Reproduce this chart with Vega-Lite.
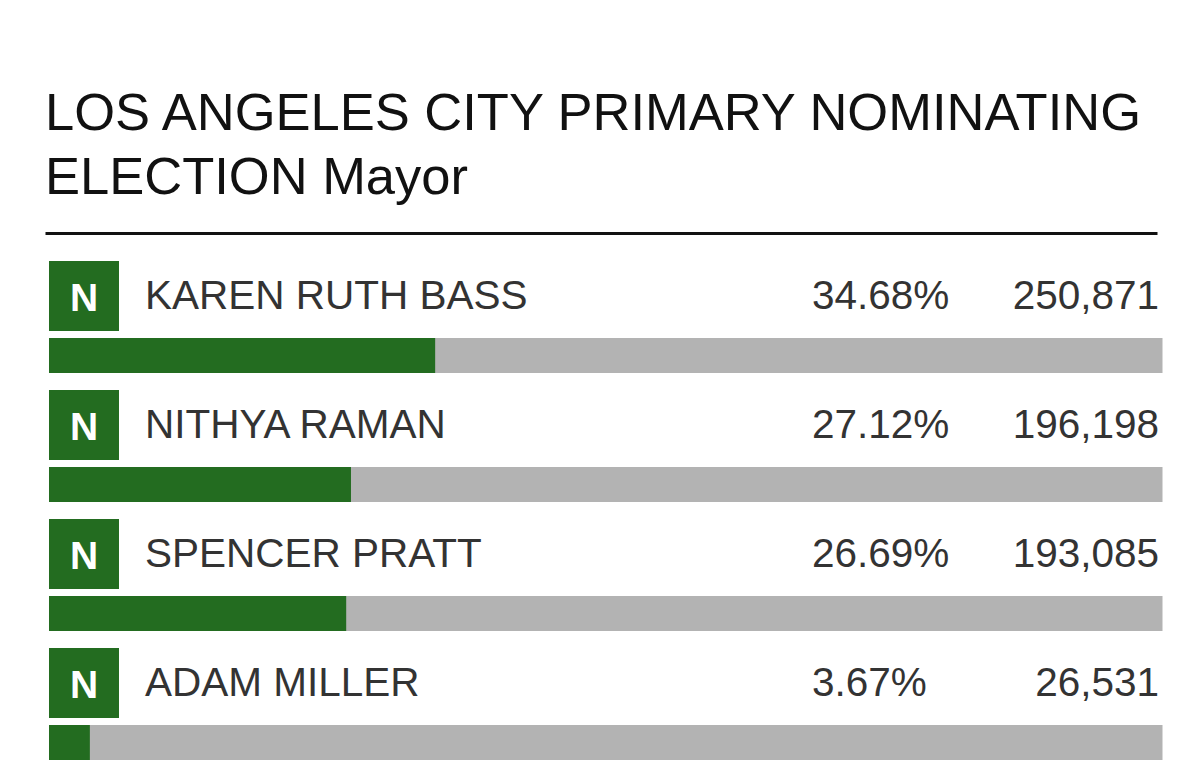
{
  "$schema": "https://vega.github.io/schema/vega-lite/v6.json",
  "autosize": {"type": "none"},
  "width": 1112,
  "height": 516,
  "padding": {"left": 45, "top": 252, "right": 43, "bottom": 1},
  "background": "white",
  "config": {"view": {"stroke": null}, "font": "Liberation Sans"},
  "title": {
    "text": ["LOS ANGELES CITY PRIMARY NOMINATING", "ELECTION Mayor"],
    "anchor": "start",
    "frame": "group",
    "font": "Liberation Sans",
    "fontSize": 52.5,
    "fontWeight": "normal",
    "lineHeight": 64,
    "color": "#111111",
    "offset": 28
  },
  "data": {
    "values": [
      {"party": "N", "name": "KAREN RUTH BASS", "share": 0.3468, "votes": 250871},
      {"party": "N", "name": "NITHYA RAMAN", "share": 0.2712, "votes": 196198},
      {"party": "N", "name": "SPENCER PRATT", "share": 0.2669, "votes": 193085},
      {"party": "N", "name": "ADAM MILLER", "share": 0.0367, "votes": 26531}
    ]
  },
  "layer": [
    {
      "mark": {"type": "rect", "height": 35, "yOffset": 39, "color": "#b3b3b3"},
      "encoding": {
        "y": {"field": "name", "type": "nominal", "sort": null, "scale": {"paddingInner": 0, "paddingOuter": 0}, "axis": null},
        "x": {
          "datum": 0,
          "type": "quantitative",
          "scale": {"domain": [-0.003592, 0.99506], "nice": false, "zero": false},
          "axis": {
            "orient": "top",
            "domain": true,
            "domainColor": "#111111",
            "domainWidth": 3,
            "ticks": false,
            "labels": false,
            "grid": false,
            "title": null,
            "offset": 19
          }
        },
        "x2": {"datum": 1}
      }
    },
    {
      "mark": {"type": "bar", "height": 35, "yOffset": 39, "color": "#236c20"},
      "encoding": {
        "y": {"field": "name", "type": "nominal", "sort": null},
        "x": {"field": "share", "type": "quantitative", "stack": null}
      }
    },
    {
      "mark": {"type": "rect", "height": 70, "yOffset": -20.5, "color": "#236c20"},
      "encoding": {
        "y": {"field": "name", "type": "nominal", "sort": null},
        "x": {"datum": 0, "type": "quantitative"},
        "x2": {"datum": 0.06286}
      }
    },
    {
      "mark": {"type": "text", "align": "center", "baseline": "alphabetic", "yOffset": -5.5, "font": "Liberation Sans", "fontSize": 39, "fontWeight": "bold", "color": "white"},
      "encoding": {
        "y": {"field": "name", "type": "nominal", "sort": null},
        "x": {"datum": 0.03143, "type": "quantitative"},
        "text": {"field": "party"}
      }
    },
    {
      "mark": {"type": "text", "align": "left", "baseline": "alphabetic", "yOffset": -7.5, "font": "Liberation Sans", "fontSize": 40.5, "color": "#333333"},
      "encoding": {
        "y": {"field": "name", "type": "nominal", "sort": null},
        "x": {"datum": 0.0862, "type": "quantitative"},
        "text": {"field": "name"}
      }
    },
    {
      "mark": {"type": "text", "align": "left", "baseline": "alphabetic", "yOffset": -7.5, "font": "Liberation Sans", "fontSize": 40.5, "color": "#333333"},
      "encoding": {
        "y": {"field": "name", "type": "nominal", "sort": null},
        "x": {"datum": 0.6852, "type": "quantitative"},
        "text": {"field": "share", "type": "quantitative", "format": ".2%"}
      }
    },
    {
      "mark": {"type": "text", "align": "right", "baseline": "alphabetic", "yOffset": -7.5, "font": "Liberation Sans", "fontSize": 40.5, "color": "#333333"},
      "encoding": {
        "y": {"field": "name", "type": "nominal", "sort": null},
        "x": {"datum": 0.9969, "type": "quantitative"},
        "text": {"field": "votes", "type": "quantitative", "format": ","}
      }
    }
  ]
}
